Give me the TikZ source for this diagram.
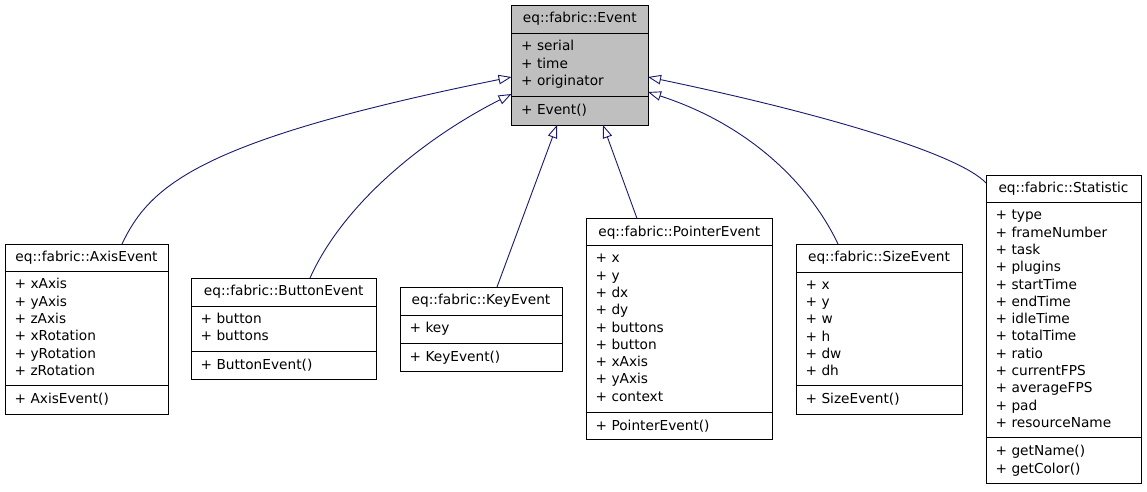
\documentclass[tikz,border=0pt]{standalone}
\usepackage{fontspec}
\setmainfont{DejaVu Sans}
\usetikzlibrary{arrows.meta,calc}
\definecolor{edgeblue}{HTML}{191970}
\definecolor{basegray}{HTML}{BFBFBF}
\newcommand\umlclass[8]{%
  \node[cls, fill=#8, minimum width=#4-#2, minimum height=#5-#3] (#1) at (#2,#3) {};
  \draw[divline] (#2,#6) -- (#4,#6) (#2,#7) -- (#4,#7);
}
\newcommand\umltitle[3]{\node[ttl] at (#1,#2) {#3};}
\newcommand\umlmembers[3]{\foreach \t [count=\i from 0] in {#3} \node[lbl] at (#1+9.5, #2+17.3*\i) {\t};}
\tikzset{
  cls/.style={draw=black, line width=1pt, inner sep=0pt, outer sep=0pt, anchor=north west, rectangle},
  divline/.style={draw=black, line width=1pt},
  lbl/.style={inner sep=0pt, anchor=base west, font=\fontsize{13.7}{16}\selectfont},
  ttl/.style={inner sep=0pt, anchor=base, font=\fontsize{13.7}{16}\selectfont},
  inh/.style={draw=edgeblue, line width=0.9pt, -{Triangle[open, length=13pt, width=9.5pt, line width=0.9pt]}},
}
\begin{document}
\begin{tikzpicture}[x=1pt, y=-1pt]
\useasboundingbox (0,0) rectangle (1147,491);
\fill[white] (0,0) rectangle (1147,491);

% Event
\umlclass{event}{511.5}{5}{648}{125}{33.5}{96.5}{basegray}
\umltitle{579.75}{22.5}{eq::fabric::Event}
\umlmembers{511.5}{50.8}{+ serial, + time, + originator}
\umlmembers{511.5}{114.8}{+ Event()}

% AxisEvent
\umlclass{axis}{5}{244}{168}{414}{271.5}{385.5}{white}
\umltitle{86.5}{261.5}{eq::fabric::AxisEvent}
\umlmembers{5}{288.8}{+ xAxis, + yAxis, + zAxis, + xRotation, + yRotation, + zRotation}
\umlmembers{5}{403.8}{+ AxisEvent()}

% ButtonEvent
\umlclass{button}{191}{278}{376.5}{379.5}{306}{351}{white}
\umltitle{283.75}{295.5}{eq::fabric::ButtonEvent}
\umlmembers{191}{323.3}{+ button, + buttons}
\umlmembers{191}{369.3}{+ ButtonEvent()}

% KeyEvent
\umlclass{key}{400}{287}{562}{371}{315}{343}{white}
\umltitle{481}{304.5}{eq::fabric::KeyEvent}
\umlmembers{400}{332.3}{+ key}
\umlmembers{400}{361.3}{+ KeyEvent()}

% PointerEvent
\umlclass{pointer}{586}{218.5}{772.5}{439}{245.5}{412}{white}
\umltitle{679.25}{236}{eq::fabric::PointerEvent}
\umlmembers{586}{262.8}{+ x, + y, + dx, + dy, + buttons, + button, + xAxis, + yAxis, + context}
\umlmembers{586}{430.3}{+ PointerEvent()}

% SizeEvent
\umlclass{size}{796}{244}{962}{414}{272}{385.5}{white}
\umltitle{879}{261.5}{eq::fabric::SizeEvent}
\umlmembers{796}{289.3}{+ x, + y, + w, + h, + dw, + dh}
\umlmembers{796}{403.8}{+ SizeEvent()}

% Statistic
\umlclass{stat}{986}{175}{1141}{483}{202.5}{437.5}{white}
\umltitle{1063.5}{192.5}{eq::fabric::Statistic}
\umlmembers{986}{219.8}{+ type, + frameNumber, + task, + plugins, + startTime, + endTime, + idleTime, + totalTime, + ratio, + currentFPS, + averageFPS, + pad, + resourceName}
\umlmembers{986}{455.8}{+ getName(), + getColor()}

% Inheritance connectors
\draw[inh] ($(axis.north west)+(117,0)$) .. controls (150,185) and (200,140) .. ($(event.north west)+(0,72)$);
\draw[inh] ($(button.north west)+(119,0)$) .. controls (345,200) and (430,135) .. ($(event.north west)+(0,89)$);
\draw[inh] ($(key.north west)+(97,0)$) -- ($(event.south west)+(45.5,0)$);
\draw[inh] ($(pointer.north west)+(51,0)$) -- ($(event.south west)+(91.5,0)$);
\draw[inh] ($(size.north west)+(42,0)$) .. controls (810,185) and (750,125) .. ($(event.north east)+(0,87)$);
\draw[inh] ($(stat.north west)+(0,8)$) .. controls (960,155) and (830,115) .. ($(event.north east)+(0,72)$);
\end{tikzpicture}
\end{document}
